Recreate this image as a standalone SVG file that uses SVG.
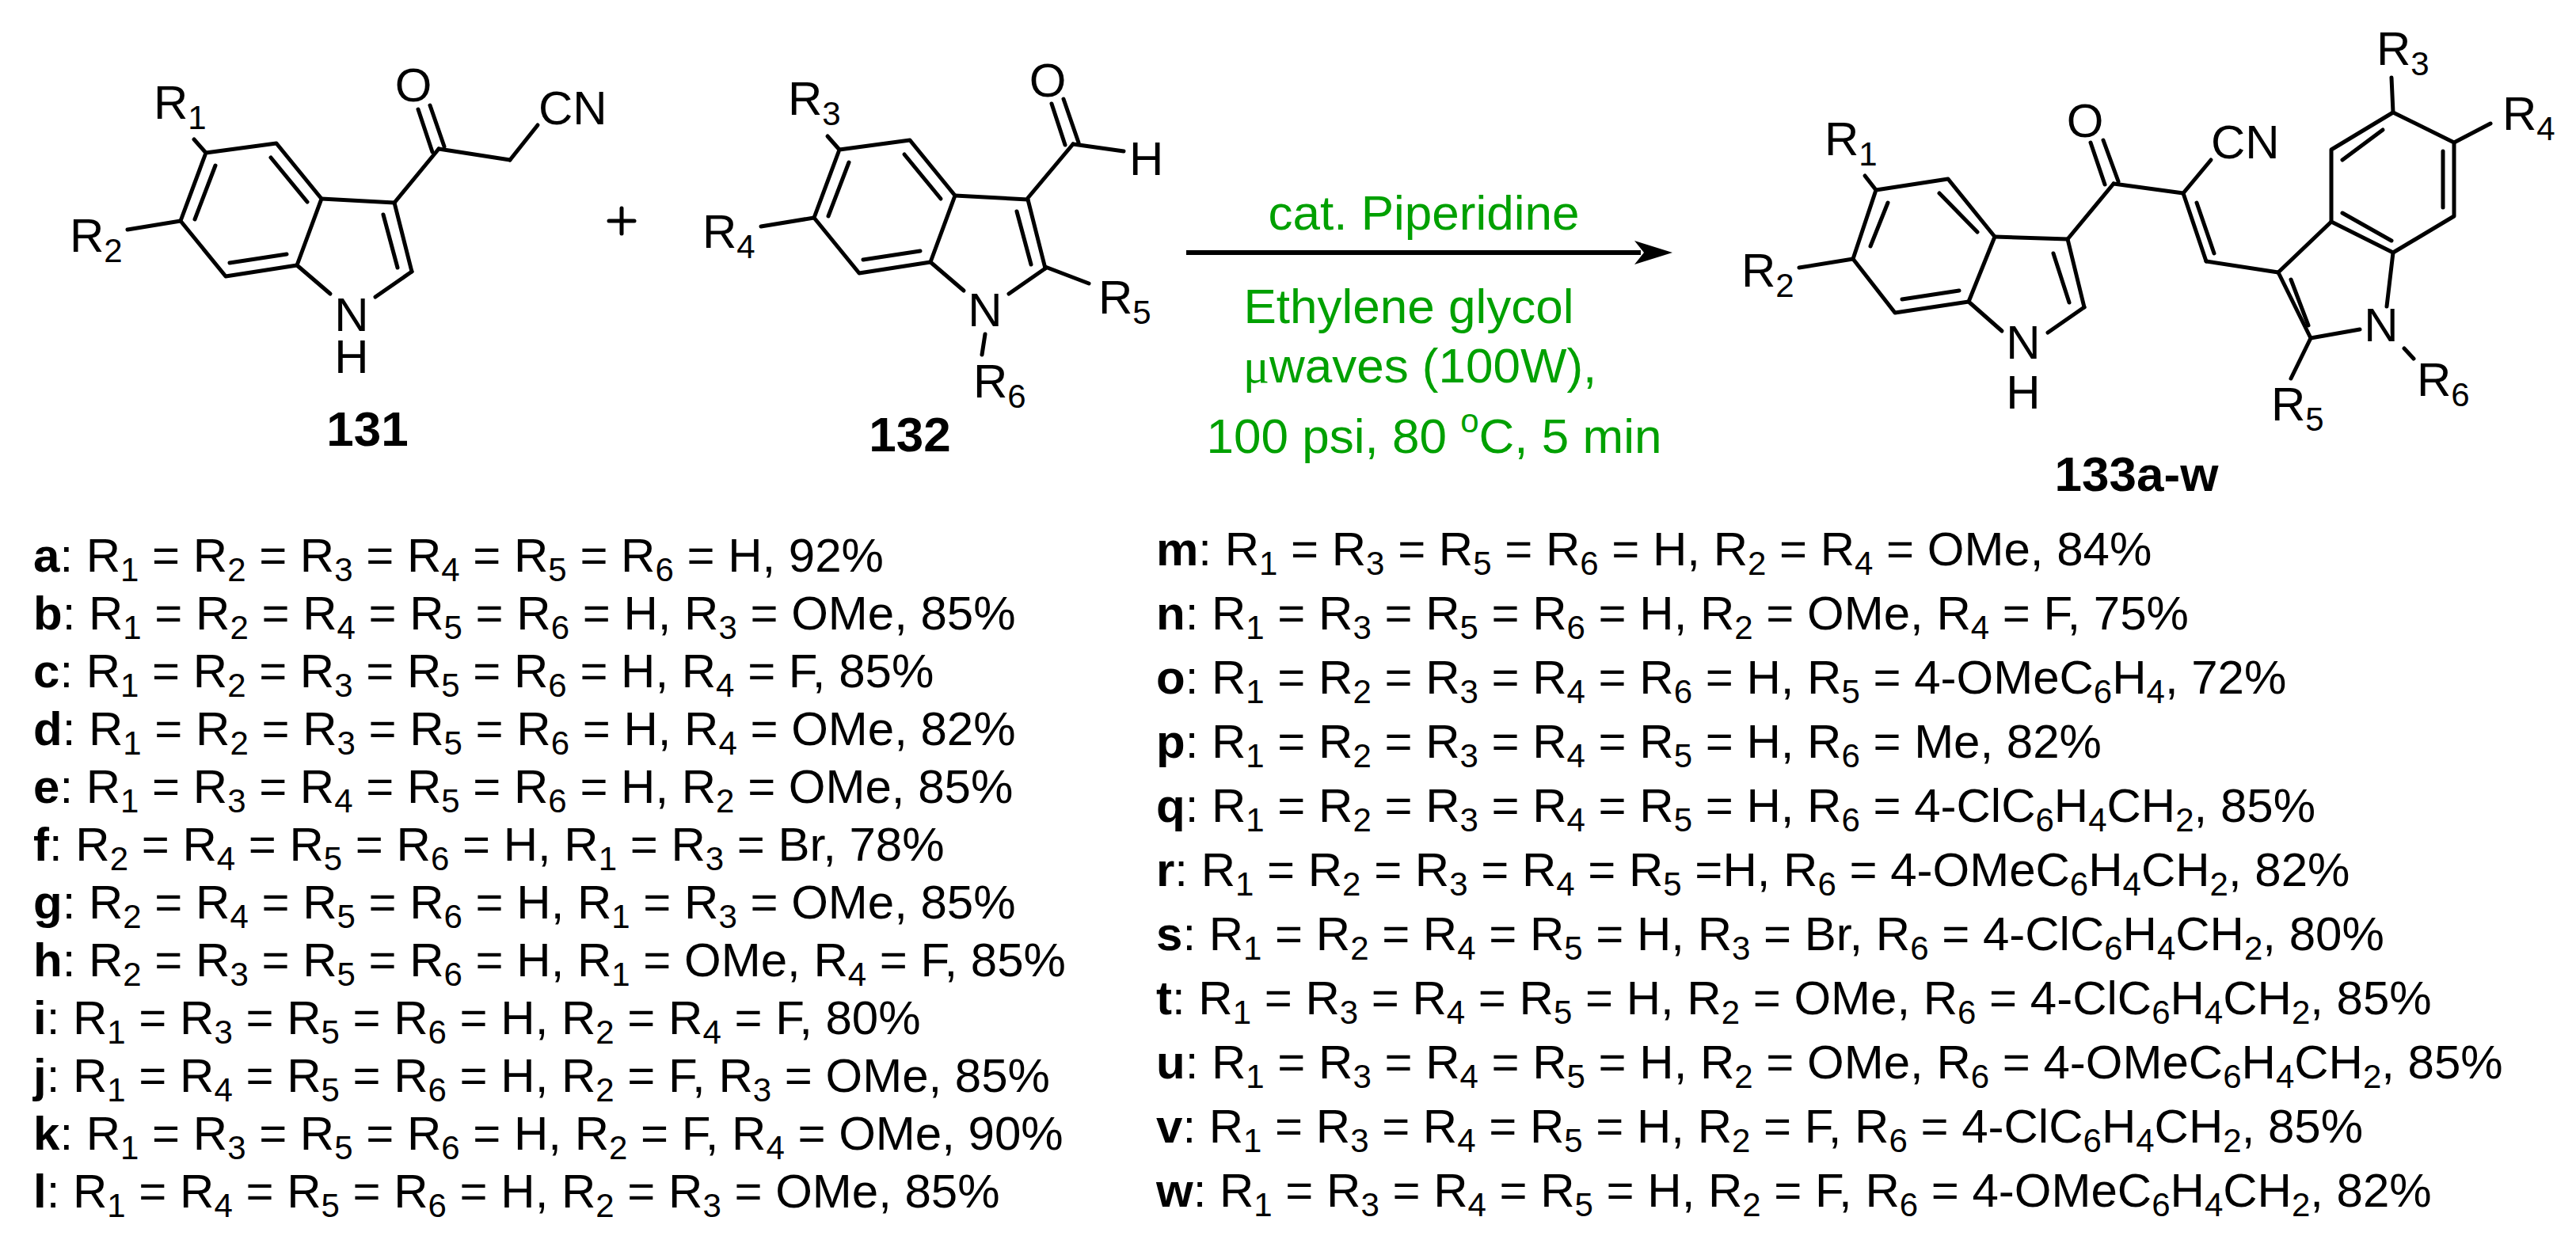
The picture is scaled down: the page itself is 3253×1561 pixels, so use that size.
<svg xmlns="http://www.w3.org/2000/svg" width="3253" height="1561" viewBox="0 0 3253 1561">
<style>
text{font-family:"Liberation Sans",Arial,sans-serif;fill:#000}
.a{font-size:60px}
.l{font-size:60px}
.s{font-size:42px;baseline-shift:-12px}
.as{font-size:42px;baseline-shift:-13px}
.b{font-weight:bold}
.lab{font-size:62px;font-weight:bold;text-anchor:middle}
.g{fill:#00a000;font-size:62px;text-anchor:middle}
.bd line,.bd polyline,.bd polygon{stroke:#000;stroke-width:5;fill:none;stroke-linecap:round;stroke-linejoin:round}
</style>
<rect width="3253" height="1561" fill="#fff"/>
<g id="c131" class="bd">
<polygon points="260,193 349,181 406,251 375,335 285,349 228,279"/>
<line x1="272" y1="209" x2="246" y2="277"/><line x1="342" y1="199" x2="388" y2="255"/><line x1="290" y1="332" x2="362" y2="321"/>
<line x1="406" y1="251" x2="498" y2="256"/><line x1="498" y1="256" x2="520" y2="343"/><line x1="484" y1="271" x2="502" y2="338"/>
<line x1="520" y1="343" x2="474" y2="375"/><line x1="375" y1="335" x2="417" y2="371"/>
<line x1="245" y1="176" x2="260" y2="193"/><line x1="161" y1="290" x2="228" y2="279"/>
<line x1="498" y1="256" x2="554" y2="188"/><line x1="528" y1="138" x2="546" y2="192"/><line x1="543" y1="133" x2="561" y2="185"/>
<line x1="554" y1="188" x2="644" y2="202"/><line x1="644" y1="202" x2="679" y2="158"/>
<text class="a" x="194" y="150">R<tspan class="as">1</tspan></text>
<text class="a" x="88" y="318">R<tspan class="as">2</tspan></text>
<text class="a" x="522" y="128" text-anchor="middle">O</text>
<text class="a" x="680" y="157">CN</text>
<text class="a" x="444" y="418" text-anchor="middle">N</text>
<text class="a" x="444" y="471" text-anchor="middle">H</text>
<text class="lab" x="464" y="563">131</text>
</g>
<g id="plus" class="bd"><line x1="769" y1="279" x2="801" y2="279"/><line x1="785" y1="263" x2="785" y2="295"/></g>
<g id="c132" class="bd">
<g transform="translate(800,-4)">
<polygon points="260,193 349,181 406,251 375,335 285,349 228,279"/>
<line x1="272" y1="209" x2="246" y2="277"/><line x1="342" y1="199" x2="388" y2="255"/><line x1="290" y1="332" x2="362" y2="321"/>
<line x1="406" y1="251" x2="498" y2="256"/><line x1="498" y1="256" x2="520" y2="343"/><line x1="484" y1="271" x2="502" y2="338"/>
<line x1="520" y1="343" x2="474" y2="375"/><line x1="375" y1="335" x2="417" y2="371"/>
<line x1="245" y1="176" x2="260" y2="193"/><line x1="161" y1="290" x2="228" y2="279"/>
</g>
<line x1="1298" y1="250" x2="1355" y2="182"/><line x1="1328" y1="131" x2="1345" y2="183"/><line x1="1343" y1="125" x2="1362" y2="180"/>
<line x1="1355" y1="182" x2="1419" y2="191"/>
<line x1="1320" y1="337" x2="1375" y2="358"/><line x1="1244" y1="422" x2="1240" y2="448"/>
<text class="a" x="995" y="145">R<tspan class="as">3</tspan></text>
<text class="a" x="887" y="313">R<tspan class="as">4</tspan></text>
<text class="a" x="1323" y="122" text-anchor="middle">O</text>
<text class="a" x="1426" y="221">H</text>
<text class="a" x="1387" y="396">R<tspan class="as">5</tspan></text>
<text class="a" x="1244" y="412" text-anchor="middle">N</text>
<text class="a" x="1229" y="502">R<tspan class="as">6</tspan></text>
<text class="lab" x="1149" y="570">132</text>
</g>
<g id="connectors">
<line x1="1498" y1="319" x2="2072" y2="319" stroke="#000" stroke-width="6"/>
<polygon points="2112,319 2064,304 2076,319 2064,334" fill="#000"/>
</g>
<g id="conditions">
<text class="g" x="1798" y="290">cat. Piperidine</text>
<text class="g" x="1779" y="408">Ethylene glycol</text>
<text class="g" x="1793" y="483"><tspan font-family="'Liberation Serif',serif">μ</tspan>waves (100W),</text>
<text class="g" x="1811" y="572">100 psi, 80 <tspan font-size="42" dy="-26">o</tspan><tspan dy="26">C, 5 min</tspan></text>
</g>
<g id="c133" class="bd">
<polygon points="2369,240 2460,226 2519,299 2486,381 2393,395 2340,327"/>
<line x1="2384" y1="256" x2="2362" y2="311"/><line x1="2449" y1="244" x2="2497" y2="293"/><line x1="2402" y1="378" x2="2474" y2="367"/>
<line x1="2519" y1="299" x2="2611" y2="302"/><line x1="2611" y1="302" x2="2632" y2="388"/><line x1="2593" y1="320" x2="2613" y2="382"/>
<line x1="2632" y1="388" x2="2586" y2="420"/><line x1="2486" y1="381" x2="2528" y2="418"/>
<line x1="2355" y1="222" x2="2369" y2="240"/><line x1="2272" y1="338" x2="2340" y2="327"/>
<line x1="2611" y1="302" x2="2669" y2="232"/><line x1="2640" y1="180" x2="2658" y2="233"/><line x1="2656" y1="177" x2="2675" y2="229"/>
<line x1="2669" y1="232" x2="2757" y2="244"/><line x1="2757" y1="244" x2="2792" y2="202"/>
<line x1="2757" y1="244" x2="2786" y2="330"/><line x1="2774" y1="256" x2="2796" y2="320"/>
<line x1="2786" y1="330" x2="2877" y2="344"/>
<polygon points="2944,280 2944,189 3022,142 3099,180 3099,273 3022,319"/>
<line x1="2958" y1="202" x2="3009" y2="164"/><line x1="3085" y1="191" x2="3085" y2="262"/><line x1="2958" y1="269" x2="3020" y2="304"/>
<line x1="2877" y1="344" x2="2944" y2="280"/><line x1="2877" y1="344" x2="2918" y2="427"/><line x1="2893" y1="353" x2="2915" y2="411"/>
<line x1="2918" y1="427" x2="2980" y2="416"/><line x1="3022" y1="319" x2="3014" y2="387"/>
<line x1="3020" y1="98" x2="3022" y2="142"/><line x1="3099" y1="180" x2="3145" y2="156"/>
<line x1="2918" y1="427" x2="2893" y2="478"/><line x1="3036" y1="440" x2="3048" y2="453"/>
<text class="a" x="2304" y="196">R<tspan class="as">1</tspan></text>
<text class="a" x="2199" y="362">R<tspan class="as">2</tspan></text>
<text class="a" x="2633" y="173" text-anchor="middle">O</text>
<text class="a" x="2792" y="200">CN</text>
<text class="a" x="2555" y="453" text-anchor="middle">N</text>
<text class="a" x="2555" y="516" text-anchor="middle">H</text>
<text class="a" x="3001" y="82">R<tspan class="as">3</tspan></text>
<text class="a" x="3160" y="164">R<tspan class="as">4</tspan></text>
<text class="a" x="3007" y="431" text-anchor="middle">N</text>
<text class="a" x="2868" y="531">R<tspan class="as">5</tspan></text>
<text class="a" x="3052" y="500">R<tspan class="as">6</tspan></text>
<text class="lab" x="2698" y="620">133a-w</text>
</g>
<g id="list-left">
<text class="l" x="42" y="722"><tspan class="b">a</tspan>: R<tspan class="s">1</tspan> = R<tspan class="s">2</tspan> = R<tspan class="s">3</tspan> = R<tspan class="s">4</tspan> = R<tspan class="s">5</tspan> = R<tspan class="s">6</tspan> = H, 92%</text>
<text class="l" x="42" y="795"><tspan class="b">b</tspan>: R<tspan class="s">1</tspan> = R<tspan class="s">2</tspan> = R<tspan class="s">4</tspan> = R<tspan class="s">5</tspan> = R<tspan class="s">6</tspan> = H, R<tspan class="s">3</tspan> = OMe, 85%</text>
<text class="l" x="42" y="868"><tspan class="b">c</tspan>: R<tspan class="s">1</tspan> = R<tspan class="s">2</tspan> = R<tspan class="s">3</tspan> = R<tspan class="s">5</tspan> = R<tspan class="s">6</tspan> = H, R<tspan class="s">4</tspan> = F, 85%</text>
<text class="l" x="42" y="941"><tspan class="b">d</tspan>: R<tspan class="s">1</tspan> = R<tspan class="s">2</tspan> = R<tspan class="s">3</tspan> = R<tspan class="s">5</tspan> = R<tspan class="s">6</tspan> = H, R<tspan class="s">4</tspan> = OMe, 82%</text>
<text class="l" x="42" y="1014"><tspan class="b">e</tspan>: R<tspan class="s">1</tspan> = R<tspan class="s">3</tspan> = R<tspan class="s">4</tspan> = R<tspan class="s">5</tspan> = R<tspan class="s">6</tspan> = H, R<tspan class="s">2</tspan> = OMe, 85%</text>
<text class="l" x="42" y="1087"><tspan class="b">f</tspan>: R<tspan class="s">2</tspan> = R<tspan class="s">4</tspan> = R<tspan class="s">5</tspan> = R<tspan class="s">6</tspan> = H, R<tspan class="s">1</tspan> = R<tspan class="s">3</tspan> = Br, 78%</text>
<text class="l" x="42" y="1160"><tspan class="b">g</tspan>: R<tspan class="s">2</tspan> = R<tspan class="s">4</tspan> = R<tspan class="s">5</tspan> = R<tspan class="s">6</tspan> = H, R<tspan class="s">1</tspan> = R<tspan class="s">3</tspan> = OMe, 85%</text>
<text class="l" x="42" y="1233"><tspan class="b">h</tspan>: R<tspan class="s">2</tspan> = R<tspan class="s">3</tspan> = R<tspan class="s">5</tspan> = R<tspan class="s">6</tspan> = H, R<tspan class="s">1</tspan> = OMe, R<tspan class="s">4</tspan> = F, 85%</text>
<text class="l" x="42" y="1306"><tspan class="b">i</tspan>: R<tspan class="s">1</tspan> = R<tspan class="s">3</tspan> = R<tspan class="s">5</tspan> = R<tspan class="s">6</tspan> = H, R<tspan class="s">2</tspan> = R<tspan class="s">4</tspan> = F, 80%</text>
<text class="l" x="42" y="1379"><tspan class="b">j</tspan>: R<tspan class="s">1</tspan> = R<tspan class="s">4</tspan> = R<tspan class="s">5</tspan> = R<tspan class="s">6</tspan> = H, R<tspan class="s">2</tspan> = F, R<tspan class="s">3</tspan> = OMe, 85%</text>
<text class="l" x="42" y="1452"><tspan class="b">k</tspan>: R<tspan class="s">1</tspan> = R<tspan class="s">3</tspan> = R<tspan class="s">5</tspan> = R<tspan class="s">6</tspan> = H, R<tspan class="s">2</tspan> = F, R<tspan class="s">4</tspan> = OMe, 90%</text>
<text class="l" x="42" y="1525"><tspan class="b">l</tspan>: R<tspan class="s">1</tspan> = R<tspan class="s">4</tspan> = R<tspan class="s">5</tspan> = R<tspan class="s">6</tspan> = H, R<tspan class="s">2</tspan> = R<tspan class="s">3</tspan> = OMe, 85%</text>
</g>
<g id="list-right">
<text class="l" x="1460" y="714"><tspan class="b">m</tspan>: R<tspan class="s">1</tspan> = R<tspan class="s">3</tspan> = R<tspan class="s">5</tspan> = R<tspan class="s">6</tspan> = H, R<tspan class="s">2</tspan> = R<tspan class="s">4</tspan> = OMe, 84%</text>
<text class="l" x="1460" y="795"><tspan class="b">n</tspan>: R<tspan class="s">1</tspan> = R<tspan class="s">3</tspan> = R<tspan class="s">5</tspan> = R<tspan class="s">6</tspan> = H, R<tspan class="s">2</tspan> = OMe, R<tspan class="s">4</tspan> = F, 75%</text>
<text class="l" x="1460" y="876"><tspan class="b">o</tspan>: R<tspan class="s">1</tspan> = R<tspan class="s">2</tspan> = R<tspan class="s">3</tspan> = R<tspan class="s">4</tspan> = R<tspan class="s">6</tspan> = H, R<tspan class="s">5</tspan> = 4-OMeC<tspan class="s">6</tspan>H<tspan class="s">4</tspan>, 72%</text>
<text class="l" x="1460" y="957"><tspan class="b">p</tspan>: R<tspan class="s">1</tspan> = R<tspan class="s">2</tspan> = R<tspan class="s">3</tspan> = R<tspan class="s">4</tspan> = R<tspan class="s">5</tspan> = H, R<tspan class="s">6</tspan> = Me, 82%</text>
<text class="l" x="1460" y="1038"><tspan class="b">q</tspan>: R<tspan class="s">1</tspan> = R<tspan class="s">2</tspan> = R<tspan class="s">3</tspan> = R<tspan class="s">4</tspan> = R<tspan class="s">5</tspan> = H, R<tspan class="s">6</tspan> = 4-ClC<tspan class="s">6</tspan>H<tspan class="s">4</tspan>CH<tspan class="s">2</tspan>, 85%</text>
<text class="l" x="1460" y="1119"><tspan class="b">r</tspan>: R<tspan class="s">1</tspan> = R<tspan class="s">2</tspan> = R<tspan class="s">3</tspan> = R<tspan class="s">4</tspan> = R<tspan class="s">5</tspan> =H, R<tspan class="s">6</tspan> = 4-OMeC<tspan class="s">6</tspan>H<tspan class="s">4</tspan>CH<tspan class="s">2</tspan>, 82%</text>
<text class="l" x="1460" y="1200"><tspan class="b">s</tspan>: R<tspan class="s">1</tspan> = R<tspan class="s">2</tspan> = R<tspan class="s">4</tspan> = R<tspan class="s">5</tspan> = H, R<tspan class="s">3</tspan> = Br, R<tspan class="s">6</tspan> = 4-ClC<tspan class="s">6</tspan>H<tspan class="s">4</tspan>CH<tspan class="s">2</tspan>, 80%</text>
<text class="l" x="1460" y="1281"><tspan class="b">t</tspan>: R<tspan class="s">1</tspan> = R<tspan class="s">3</tspan> = R<tspan class="s">4</tspan> = R<tspan class="s">5</tspan> = H, R<tspan class="s">2</tspan> = OMe, R<tspan class="s">6</tspan> = 4-ClC<tspan class="s">6</tspan>H<tspan class="s">4</tspan>CH<tspan class="s">2</tspan>, 85%</text>
<text class="l" x="1460" y="1362"><tspan class="b">u</tspan>: R<tspan class="s">1</tspan> = R<tspan class="s">3</tspan> = R<tspan class="s">4</tspan> = R<tspan class="s">5</tspan> = H, R<tspan class="s">2</tspan> = OMe, R<tspan class="s">6</tspan> = 4-OMeC<tspan class="s">6</tspan>H<tspan class="s">4</tspan>CH<tspan class="s">2</tspan>, 85%</text>
<text class="l" x="1460" y="1443"><tspan class="b">v</tspan>: R<tspan class="s">1</tspan> = R<tspan class="s">3</tspan> = R<tspan class="s">4</tspan> = R<tspan class="s">5</tspan> = H, R<tspan class="s">2</tspan> = F, R<tspan class="s">6</tspan> = 4-ClC<tspan class="s">6</tspan>H<tspan class="s">4</tspan>CH<tspan class="s">2</tspan>, 85%</text>
<text class="l" x="1460" y="1524"><tspan class="b">w</tspan>: R<tspan class="s">1</tspan> = R<tspan class="s">3</tspan> = R<tspan class="s">4</tspan> = R<tspan class="s">5</tspan> = H, R<tspan class="s">2</tspan> = F, R<tspan class="s">6</tspan> = 4-OMeC<tspan class="s">6</tspan>H<tspan class="s">4</tspan>CH<tspan class="s">2</tspan>, 82%</text>
</g>
</svg>
